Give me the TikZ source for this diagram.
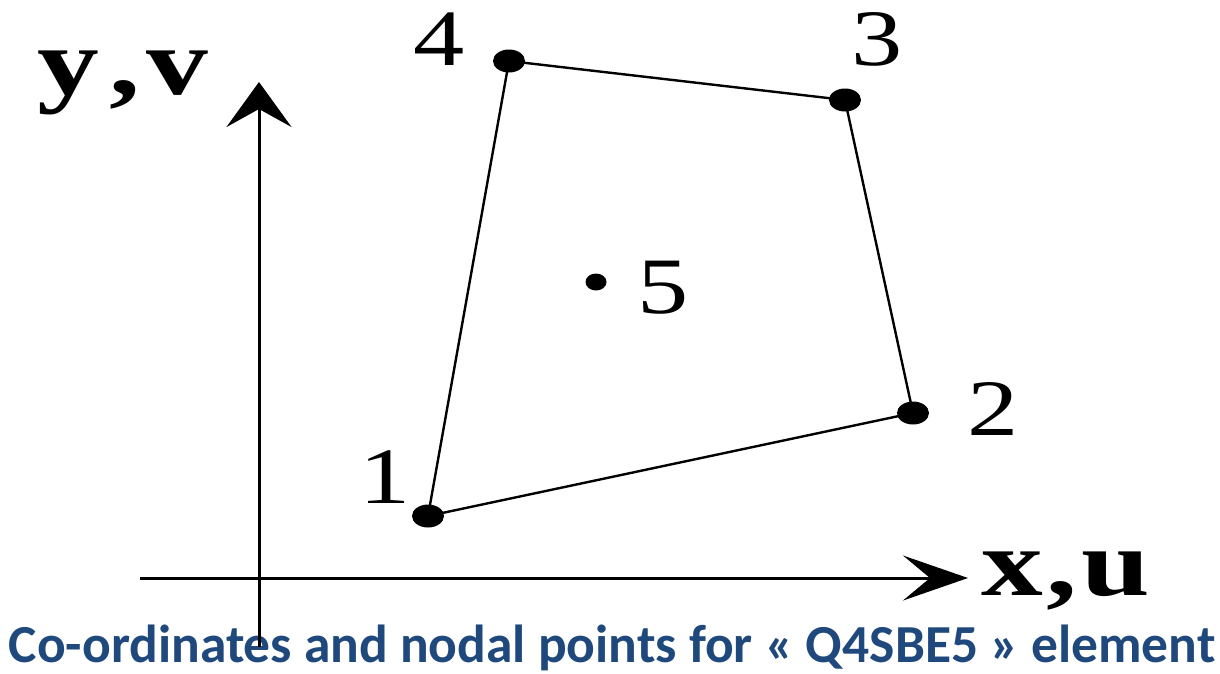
\documentclass[tikz,border=0pt]{standalone}
\usepackage{fontspec}
\setmainfont{Liberation Serif}
\newfontfamily\capfont{Carlito}
\usetikzlibrary{arrows.meta,shapes.geometric}
\definecolor{capblue}{RGB}{31,73,125}
\tikzset{
  axisline/.style={line width=3pt},
  edgeline/.style={line width=2.4pt},
  nodedot/.style={ellipse,fill=black,inner sep=0pt,minimum width=32pt,minimum height=23pt},
  numlabel/.style={anchor=base,inner sep=0pt,xscale=1.28,font=\fontsize{80}{82}\selectfont},
  axislabel/.style={anchor=base west,inner sep=0pt,xscale=1.3,font=\fontsize{95}{96}\selectfont\bfseries},
}
\begin{document}
\begin{tikzpicture}[x=1pt,y=-1pt]
\useasboundingbox (0,0) rectangle (1220,673);
% caption
\node[anchor=base,inner sep=0pt,text=capblue,font=\capfont\bfseries\fontsize{53.5}{56}\selectfont] (cap) at (612,662) {Co-ordinates and nodal points for « Q4SBE5 » element};
% axes
\coordinate (yb) at (259,647);
\coordinate (yt) at (259,82);
\coordinate (xl) at (140,578);
\coordinate (xr) at (968,578);
\draw[axisline,-{Stealth[length=45pt,width=65pt,inset=18pt]}] (yb) -- (yt);
\draw[axisline,-{Stealth[length=65pt,width=45pt,inset=27pt]}] (xl) -- (xr);
\node[axislabel] (ylab) at (37,94) {y\hspace{8pt},\hspace{5pt}v};
\node[axislabel] (xlab) at (981,595) {x\hspace{3pt},\hspace{3pt}u};
% element nodes
\coordinate (p1) at (428,516);
\coordinate (p2) at (913,413);
\coordinate (p3) at (845,100);
\coordinate (p4) at (509,61);
\draw[edgeline] (p1) -- (p2) -- (p3) -- (p4) -- cycle;
\node[nodedot] (n1) at (p1) {};
\node[nodedot] (n2) at (p2) {};
\node[nodedot] (n3) at (p3) {};
\node[nodedot] (n4) at (p4) {};
\node[ellipse,fill=black,inner sep=0pt,minimum width=21pt,minimum height=17pt] (n5) at (596,282) {};
% labels
\node[numlabel] (l1) at (385,503) {1};
\node[numlabel] (l2) at (993,435) {2};
\node[numlabel] (l3) at (877,65) {3};
\node[numlabel] (l4) at (439,65) {4};
\node[numlabel] (l5) at (663,313) {5};
\end{tikzpicture}
\end{document}
